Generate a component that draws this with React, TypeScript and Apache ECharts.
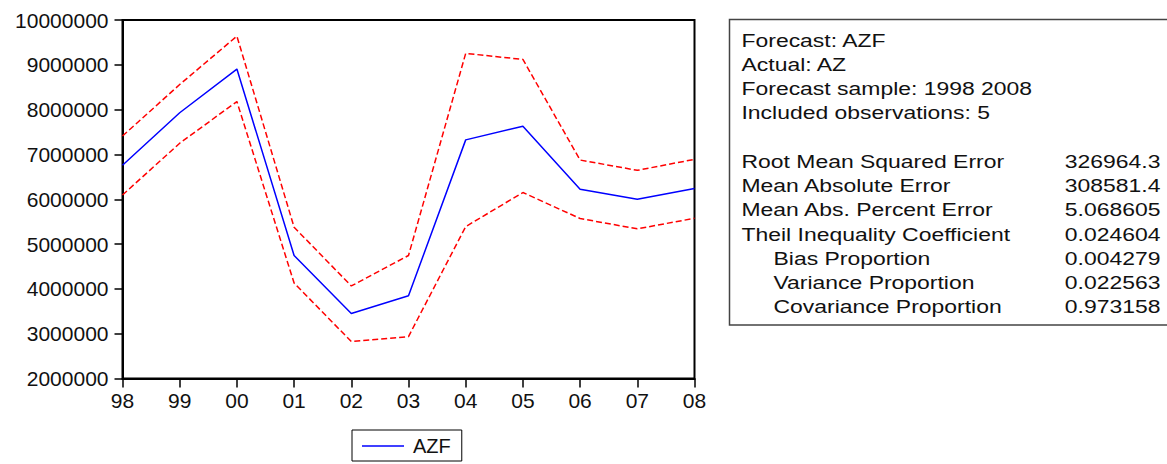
import React, { useEffect, useRef } from "react";
import * as echarts from "echarts";

const categories = ["98", "99", "00", "01", "02", "03", "04", "05", "06", "07", "08"];
const forecastAZF = [6760000, 7930000, 8905000, 4745000, 3450000, 3845000, 7325000, 7630000, 6225000, 6000000, 6240000];
const upperBand = [7410000, 8560000, 9640000, 5375000, 4065000, 4745000, 9255000, 9120000, 6875000, 6645000, 6890000];
const lowerBand = [6095000, 7250000, 8180000, 4130000, 2825000, 2935000, 5390000, 6150000, 5570000, 5340000, 5575000];

const headerLines = ["Forecast: AZF", "Actual: AZ", "Forecast sample: 1998 2008", "Included observations: 5"];
const statNames = [
  "Root Mean Squared Error",
  "Mean Absolute Error",
  "Mean Abs. Percent Error",
  "Theil Inequality Coefficient",
  "Bias Proportion",
  "Variance Proportion",
  "Covariance Proportion",
];
const statIndented = [false, false, false, false, true, true, true];
const statValues = ["326964.3", "308581.4", "5.068605", "0.024604", "0.004279", "0.022563", "0.973158"];

const FONT = '"Liberation Sans", Arial, sans-serif';

export default function App() {
  const ref = useRef<HTMLDivElement>(null);
  useEffect(() => {
    if (!ref.current) return;
    const chart = echarts.init(ref.current, undefined, { renderer: "svg" });
    const sx = 1.24;
    const fs = 18.5;
    const mkText = (text: string, x: number, y: number, align: string) => ({
      type: "text",
      x,
      y,
      scaleX: sx,
      style: {
        text,
        fontSize: fs,
        fontFamily: FONT,
        fill: "#111",
        align,
        verticalAlign: "middle",
        textAlign: align,
        textVerticalAlign: "middle",
      },
    });
    const elements: any[] = [
      {
        type: "rect",
        shape: { x: 729.5, y: 19.5, width: 450, height: 305.5 },
        style: { fill: "#fff", stroke: "#444", lineWidth: 1.5 },
      },
    ];
    headerLines.forEach((t, i) => elements.push(mkText(t, 741.5, 40.5 + i * 24.1, "left")));
    statNames.forEach((t, i) => {
      const y = 161.5 + i * 24.15;
      elements.push(mkText(t, statIndented[i] ? 773.5 : 741.5, y, "left"));
      elements.push(mkText(statValues[i], 1160.5, y, "right"));
    });

    chart.setOption({
      animation: false,
      backgroundColor: "#fff",
      grid: {
        left: 122.5,
        right: 472.5,
        top: 20,
        bottom: 85.5,
        show: true,
        borderColor: "#000",
        borderWidth: 2,
        backgroundColor: "transparent",
      },
      legend: {
        data: ["AZF"],
        left: 352,
        top: 430,
        orient: "horizontal",
        borderColor: "#000",
        borderWidth: 1,
        borderRadius: 0,
        padding: [6, 11, 5, 10],
        icon: "rect",
        itemWidth: 42,
        itemHeight: 1.5,
        textStyle: { fontFamily: FONT, fontSize: 20, color: "#111", padding: [0, 0, 0, 4] },
      },
      xAxis: {
        type: "category",
        data: categories,
        boundaryGap: false,
        axisLine: { lineStyle: { color: "#000", width: 2 } },
        axisTick: { show: true, length: 9, alignWithLabel: true, lineStyle: { color: "#000", width: 1.5 } },
        axisLabel: { fontFamily: FONT, fontSize: 21, color: "#111", margin: 11 },
        splitLine: { show: false },
      },
      yAxis: {
        type: "value",
        min: 2000000,
        max: 10000000,
        interval: 1000000,
        axisLine: { show: true, lineStyle: { color: "#000", width: 2 } },
        axisTick: { show: true, length: 8, lineStyle: { color: "#000", width: 1.5 } },
        axisLabel: {
          fontFamily: FONT,
          fontSize: 21,
          color: "#111",
          margin: 14,
          formatter: (v: number) => String(v),
        },
        splitLine: { show: false },
      },
      series: [
        {
          name: "Upper",
          type: "line",
          data: upperBand,
          symbol: "none",
          lineStyle: { color: "#ff0000", width: 1.5, type: [6, 3] },
          itemStyle: { color: "#ff0000" },
        },
        {
          name: "Lower",
          type: "line",
          data: lowerBand,
          symbol: "none",
          lineStyle: { color: "#ff0000", width: 1.5, type: [6, 3] },
          itemStyle: { color: "#ff0000" },
        },
        {
          name: "AZF",
          type: "line",
          data: forecastAZF,
          symbol: "none",
          lineStyle: { color: "#0000ff", width: 1.5 },
          itemStyle: { color: "#0000ff" },
        },
      ],
      graphic: { elements },
    });
    return () => chart.dispose();
  }, []);
  return (
    <div
      ref={ref}
      style={{ position: "fixed", left: 0, top: 0, width: 1167, height: 464, background: "#fff" }}
    />
  );
}
